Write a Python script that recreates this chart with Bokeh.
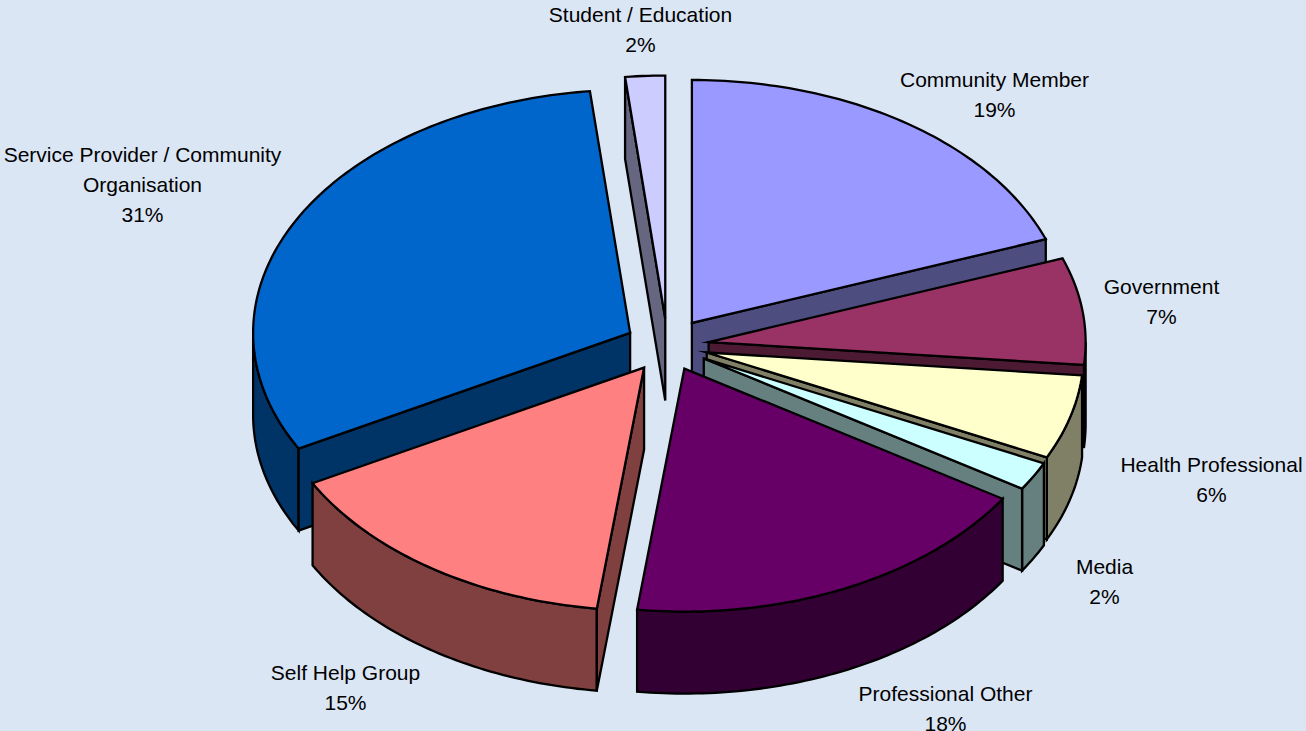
import numpy as np
from bokeh.plotting import figure
from bokeh.models import ColumnDataSource, Range1d
from bokeh.core.properties import value
from bokeh.embed import file_html
from bokeh.resources import INLINE

# Data, clockwise from 12 o'clock
categories = ["Community Member", "Government", "Health Professional", "Media",
              "Professional Other", "Self Help Group",
              "Service Provider / Community\nOrganisation", "Student / Education"]
shares = [19.4, 7.1, 5.6, 1.9, 18.0, 15.1, 31.2, 1.7]

# Style
top_colors = ["#9999FF", "#993366", "#FFFFCC", "#CCFFFF", "#660066", "#FF8080", "#0066CC", "#CCCCFF"]
side_colors = ["#4D4D80", "#4D1A33", "#808066", "#668080", "#330033", "#804040", "#003366", "#666680"]
explode = [0.113, 0.110, 0.108, 0.110, 0.105, 0.110, 0.112, 0.111]
label_x = [994, 1161, 1211, 1104, 945, 345, 142, 640]
label_y = [79, 286, 464, 566, 693, 672, 154, 14]
draw_order = [7, 0, 1, 2, 3, 6, 5, 4]

BG = "#DBE6F5"
W, H = 1306, 731
CX, CY, A, B, DEPTH = 667.0, 345.0, 377.0, 243.0, 82.0
LINE_GAP = 30
FONT = "Liberation Sans"

p = figure(width=W, height=H, output_backend="svg", toolbar_location=None,
           x_range=Range1d(0, W), y_range=Range1d(H, 0), min_border=0,
           background_fill_color=BG, border_fill_color=BG, outline_line_color=None)
p.axis.visible = False
p.grid.visible = False

edges = np.concatenate([[0.0], np.cumsum(shares)]) / np.sum(shares) * 2 * np.pi


def point(tx, ty, t):
    return tx + A * np.sin(t), ty - B * np.cos(t)


def arc(tx, ty, t0, t1):
    n = max(2, int(np.degrees(t1 - t0)) + 2)
    return point(tx, ty, np.linspace(t0, t1, n))


faces_x, faces_y, faces_c = [], [], []


def add(xs, ys, c):
    faces_x.append(list(map(float, xs)))
    faces_y.append(list(map(float, ys)))
    faces_c.append(c)


for i in draw_order:
    t0, t1 = edges[i], edges[i + 1]
    m = (t0 + t1) / 2
    tx, ty = point(CX, CY, m)
    tx = CX + explode[i] * (tx - CX)
    ty = CY + explode[i] * (ty - CY)
    side = side_colors[i]
    # outer rim, only where it faces the viewer
    r0, r1 = max(t0, np.pi / 2), min(t1, 3 * np.pi / 2)
    if r1 > r0:
        ax, ay = arc(tx, ty, r0, r1)
        add(np.r_[ax, ax[::-1]], np.r_[ay, ay[::-1] + DEPTH], side)
    # radial cut faces
    for t, visible in ((t0, np.sin(t0) < 0), (t1, np.sin(t1) > 0)):
        if visible:
            ex, ey = point(tx, ty, t)
            add([tx, ex, ex, tx], [ty, ey, ey + DEPTH, ty + DEPTH], side)
    # top face
    ax, ay = arc(tx, ty, t0, t1)
    add(np.r_[tx, ax], np.r_[ty, ay], top_colors[i])

p.patches("x", "y", source=ColumnDataSource(dict(x=faces_x, y=faces_y, c=faces_c)),
          fill_color="c", line_color="#000000", line_width=2.3, line_join="miter")

tx_, ty_, tt_ = [], [], []
for name, share, lx, ly in zip(categories, shares, label_x, label_y):
    lines = name.split("\n") + [f"{round(share)}%"]
    for k, line in enumerate(lines):
        tx_.append(lx)
        ty_.append(ly + k * LINE_GAP)
        tt_.append(line)

p.text("x", "y", text="t", source=ColumnDataSource(dict(x=tx_, y=ty_, t=tt_)),
       text_font=value(FONT), text_font_size="21px", text_color="#000000",
       text_align="center", text_baseline="middle")

html = file_html(p, INLINE).replace(
    "<body>", f'<body style="margin:0;background:{BG};overflow:hidden">')
open("out.html", "w").write(html)
